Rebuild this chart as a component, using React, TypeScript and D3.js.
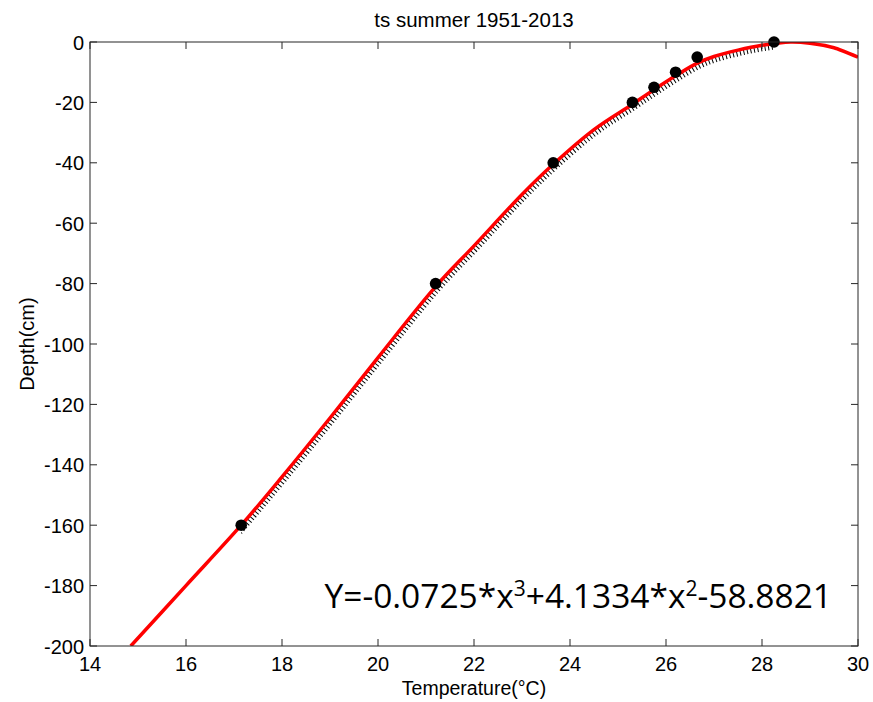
import { useEffect, useRef } from 'react';
import * as d3 from 'd3';

// observed profile (temperature °C, depth cm)
const obsTemp = [28.25, 26.65, 26.2, 25.75, 25.3, 23.65, 21.2, 17.15];
const obsDepth = [0, -5, -10, -15, -20, -40, -80, -160];

// fitted curve
const fitTemp = [14.85, 16, 17.15, 18, 19, 20, 21.2, 22, 23, 23.65, 24.5, 25.3, 25.75, 26.2, 26.65, 27, 27.5, 28, 28.6, 29, 29.5, 30];
const fitDepth = [-200, -180, -160, -144, -124.5, -104.5, -81, -67.5, -50.5, -40.5, -29, -20.6, -15.8, -11.2, -7, -4.8, -2.7, -1.1, 0, -0.4, -1.9, -5];

const xTicks = [14, 16, 18, 20, 22, 24, 26, 28, 30];
const yTicks = [0, -20, -40, -60, -80, -100, -120, -140, -160, -180, -200];

const title = 'ts summer 1951-2013';
const xLabel = 'Temperature(\u00B0C)';
const yLabel = 'Depth(cm)';

const W = 873, H = 702;
const m = { left: 90, right: 858, top: 42, bottom: 646 };

export default function App() {
  const svgRef = useRef<SVGSVGElement>(null);

  useEffect(() => {
    if (!svgRef.current) return;
    const svg = d3.select(svgRef.current);
    svg.selectAll('*').remove();

    const x = d3.scaleLinear().domain([14, 30]).range([m.left, m.right]);
    const y = d3.scaleLinear().domain([-200, 0]).range([m.bottom, m.top]);
    const font = 'Liberation Sans, Arial, sans-serif';
    const axisColor = '#262626';

    svg.append('rect')
      .attr('x', 0).attr('y', 0).attr('width', W).attr('height', H)
      .attr('fill', '#fff');

    const defs = svg.append('defs');
    defs.append('clipPath').attr('id', 'plot')
      .append('rect')
      .attr('x', m.left).attr('y', m.top)
      .attr('width', m.right - m.left).attr('height', m.bottom - m.top);

    // hatch only spans the observed range
    const tMin = d3.min(obsTemp)!, tMax = d3.max(obsTemp)!;
    defs.append('clipPath').attr('id', 'obsRange')
      .append('rect')
      .attr('x', x(tMin)).attr('y', m.top - 10)
      .attr('width', x(tMax) - x(tMin)).attr('height', m.bottom - m.top + 20);

    const plot = svg.append('g').attr('clip-path', 'url(#plot)');

    const fit = fitTemp.map((t, i) => ({ t, d: fitDepth[i] }));
    const fitLine = d3.line<{ t: number; d: number }>()
      .x(p => x(p.t)).y(p => y(p.d))
      .curve(d3.curveCatmullRom.alpha(0.5));

    // hatched black profile line, sitting just under the fit
    plot.append('g').attr('clip-path', 'url(#obsRange)')
      .append('path')
      .attr('d', fitLine(fit))
      .attr('transform', 'translate(2,3)')
      .attr('fill', 'none')
      .attr('stroke', '#000')
      .attr('stroke-width', 5.5)
      .attr('stroke-dasharray', '1 2.6');

    // red fit
    plot.append('path')
      .attr('d', fitLine(fit))
      .attr('fill', 'none')
      .attr('stroke', '#ff0000')
      .attr('stroke-width', 3.5);

    // dots
    const obs = obsTemp.map((t, i) => ({ t, d: obsDepth[i] }));
    svg.append('g').selectAll('circle')
      .data(obs)
      .join('circle')
      .attr('cx', p => x(p.t))
      .attr('cy', p => y(p.d))
      .attr('r', 5.8)
      .attr('fill', '#000');

    // frame
    svg.append('rect')
      .attr('x', m.left).attr('y', m.top)
      .attr('width', m.right - m.left).attr('height', m.bottom - m.top)
      .attr('fill', 'none').attr('stroke', axisColor).attr('stroke-width', 1);

    const tl = 7;
    const ticks = svg.append('g').attr('stroke', axisColor).attr('stroke-width', 1);
    xTicks.forEach(v => {
      ticks.append('line').attr('x1', x(v)).attr('x2', x(v)).attr('y1', m.bottom).attr('y2', m.bottom - tl);
      ticks.append('line').attr('x1', x(v)).attr('x2', x(v)).attr('y1', m.top).attr('y2', m.top + tl);
    });
    yTicks.forEach(v => {
      ticks.append('line').attr('x1', m.left).attr('x2', m.left + tl).attr('y1', y(v)).attr('y2', y(v));
      ticks.append('line').attr('x1', m.right).attr('x2', m.right - tl).attr('y1', y(v)).attr('y2', y(v));
    });

    svg.append('g').selectAll('text')
      .data(xTicks)
      .join('text')
      .attr('x', v => x(v)).attr('y', m.bottom + 25)
      .attr('text-anchor', 'middle')
      .attr('font-family', font).attr('font-size', 20).attr('fill', '#000')
      .text(v => String(v));

    svg.append('g').selectAll('text')
      .data(yTicks)
      .join('text')
      .attr('x', m.left - 6).attr('y', v => y(v) + 7.5)
      .attr('text-anchor', 'end')
      .attr('font-family', font).attr('font-size', 20).attr('fill', '#000')
      .text(v => String(v));

    svg.append('text')
      .attr('x', (m.left + m.right) / 2).attr('y', 27)
      .attr('text-anchor', 'middle')
      .attr('font-family', font).attr('font-size', 20.5).attr('fill', '#000')
      .text(title);

    svg.append('text')
      .attr('x', (m.left + m.right) / 2).attr('y', 695)
      .attr('text-anchor', 'middle')
      .attr('font-family', font).attr('font-size', 19.5).attr('fill', '#000')
      .text(xLabel);

    svg.append('text')
      .attr('transform', `translate(34,${(m.top + m.bottom) / 2}) rotate(-90)`)
      .attr('text-anchor', 'middle')
      .attr('font-family', font).attr('font-size', 20).attr('fill', '#000')
      .text(yLabel);

    // equation
    const eq = svg.append('text')
      .attr('x', 832).attr('y', 608)
      .attr('text-anchor', 'end')
      .attr('font-family', 'Open Sans, Noto Sans, sans-serif')
      .attr('font-size', 33.5).attr('fill', '#000');
    eq.append('tspan').text('Y=-0.0725*x');
    eq.append('tspan').attr('dy', -12).attr('font-size', 21).text('3');
    eq.append('tspan').attr('dy', 12).text('+4.1334*x');
    eq.append('tspan').attr('dy', -12).attr('font-size', 21).text('2');
    eq.append('tspan').attr('dy', 12).text('-58.8821');
  }, []);

  return (
    <div style={{ position: 'absolute', left: 0, top: 0, width: W, height: H }}>
      <svg ref={svgRef} width={W} height={H} style={{ display: 'block' }} />
    </div>
  );
}
